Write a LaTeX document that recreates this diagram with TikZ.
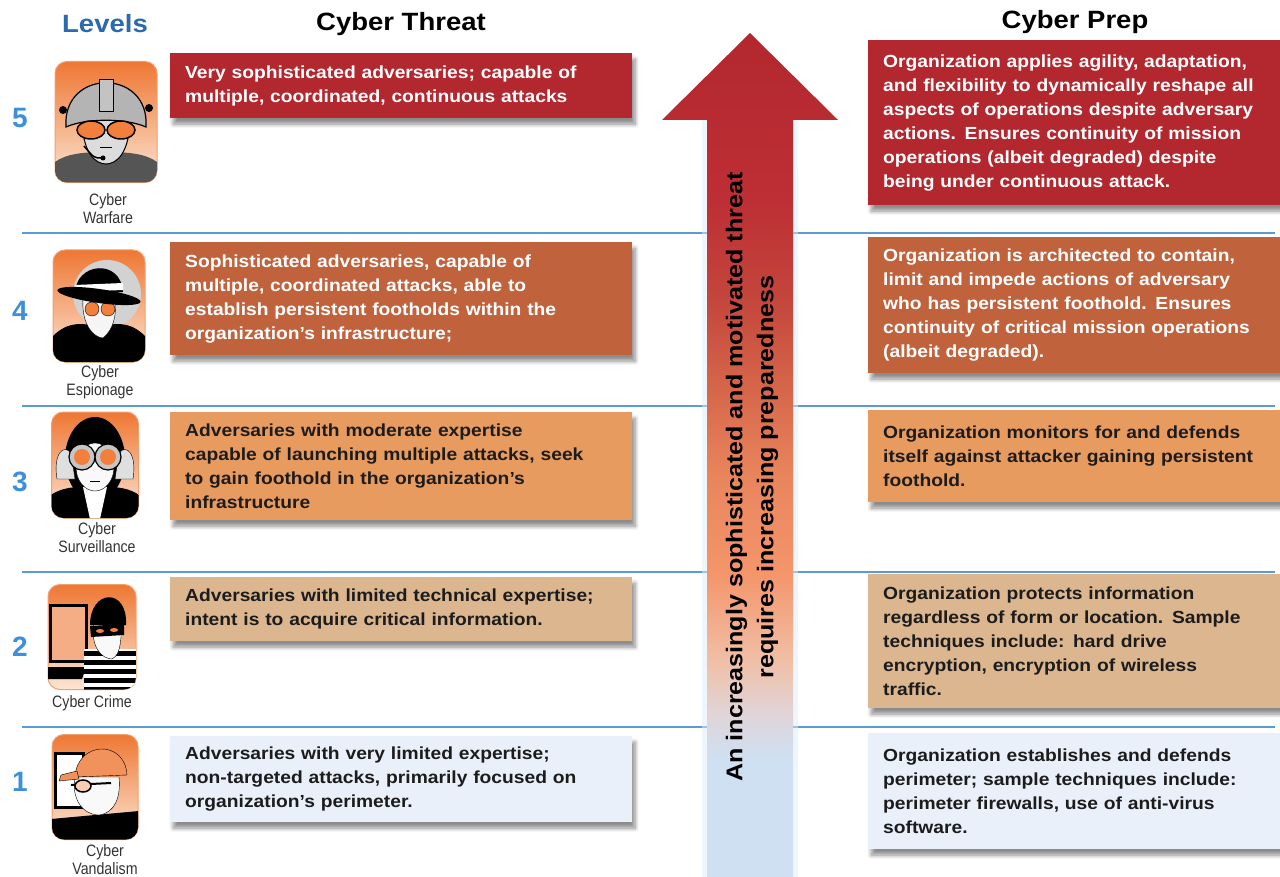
\documentclass[tikz,border=0pt]{standalone}
\usepackage{fontspec}
\setmainfont{Liberation Sans}
\newfontfamily\widefont[FakeStretch=1.1, WordSpace=1.7]{Liberation Sans}
\newfontfamily\headfont[FakeStretch=1.1]{Liberation Sans}
\newfontfamily\narrowfont[FakeStretch=0.86]{Liberation Sans}
\usetikzlibrary{positioning,shadows,shadows.blur}

\definecolor{headblue}{HTML}{2A6AAD}
\definecolor{lvlblue}{HTML}{3D8FDC}
\definecolor{ruleblue}{HTML}{5B9BD5}
\definecolor{lvfive}{HTML}{B3272F}
\definecolor{lvfour}{HTML}{C0623C}
\definecolor{lvthree}{HTML}{E89B5E}
\definecolor{lvtwo}{HTML}{DBB68F}
\definecolor{lvone}{HTML}{E9F0F9}
\definecolor{darktext}{HTML}{1C1C1C}
\definecolor{captext}{HTML}{333333}
\definecolor{iconorange}{HTML}{EE7733}
\definecolor{iconpale}{HTML}{FCE6D4}
\definecolor{iconedge}{HTML}{F0A070}
\definecolor{goggle}{HTML}{F2803C}
\definecolor{suitgray}{HTML}{555555}
\definecolor{helmetgray}{HTML}{B4B4B4}
\definecolor{facegray}{HTML}{DCDCDC}
\definecolor{arblue}{HTML}{CFE0F2}
\definecolor{arpink}{HTML}{E0D4D8}
\definecolor{arpeach}{HTML}{F0C0A8}
\definecolor{arorange}{HTML}{F4956A}
\definecolor{arcoral}{HTML}{E8845C}
\definecolor{arrust}{HTML}{D86A4C}
\definecolor{arbrick}{HTML}{C4463C}
\definecolor{arred}{HTML}{BD2F34}

\pgfdeclareverticalshading{threatshade}{100bp}{
  color(0bp)=(arblue); color(25bp)=(arblue); color(32bp)=(arblue);
  color(34.7bp)=(arpink); color(37.7bp)=(arpeach); color(43bp)=(arorange);
  color(49bp)=(arcoral); color(53.3bp)=(arrust); color(59.2bp)=(arbrick);
  color(65bp)=(arred); color(75bp)=(lvfive); color(100bp)=(lvfive)}

\tikzset{
  box/.style={rectangle, anchor=north west, inner xsep=15pt, inner ysep=0pt,
    align=left, font=\widefont\bfseries\fontsize{17.5}{24}\selectfont,
    blur shadow={shadow xshift=3pt, shadow yshift=-6pt, shadow blur steps=8,
      shadow blur radius=4pt, shadow opacity=45}},
  threatbox/.style={box, text width=432pt},
  prepbox/.style={box, text width=394pt},
  lvlnum/.style={font=\bfseries\fontsize{28}{30}\selectfont, text=lvlblue},
  heading/.style={font=\headfont\bfseries\fontsize{25}{30}\selectfont},
  iconframe/.style={rectangle, rounded corners=12pt, draw=iconedge, line width=1pt,
    top color=iconorange, bottom color=iconpale, inner sep=0pt},
  iconcap/.style={align=center, font=\narrowfont\fontsize{16.5}{18}\selectfont, text=captext},
  levelrule/.style={draw=ruleblue, line width=2pt},
}

\begin{document}
\begin{tikzpicture}[x=1pt, y=-1pt]
  \useasboundingbox (0,0) rectangle (1280,877);

  % headings and level rules
  \node[heading, text=headblue] (levels) at (105,24) {Levels};
  \node[heading] (threat) at (401,24) {Cyber Threat};
  \node[heading] (prep) at (1075,22) {Cyber Prep};
  \foreach \y in {233,406,572,727} {
    \draw[levelrule] (22,\y) -- (1275,\y);
  }
  \foreach \n/\y in {5/118,4/311,3/482,2/647,1/782} {
    \node[lvlnum] (n\n) at (20,\y) {\n};
  }

  % arrow
  \fill[ruleblue!20, opacity=0.5] (702,877) -- (702,120) -- (662,120) -- (750,36)
    -- (838,120) -- (798,120) -- (798,877) -- cycle;
  \shade[shading=threatshade] (707,877) -- (707,120) -- (662,120) -- (750,33)
    -- (838,120) -- (793,120) -- (793,877) -- cycle;
  \node[rotate=90, align=center, font=\widefont\bfseries\fontsize{22.8}{31}\selectfont]
    (arrowtxt) at (752,477)
    {An increasingly sophisticated and motivated threat\\requires increasing preparedness};

  % threat column
  \begin{scope}
    \node[threatbox, fill=lvfive, text=white, minimum height=65pt] (t5) at (170,53)
      {Very sophisticated adversaries; capable of\\multiple, coordinated, continuous attacks};
    \node[threatbox, fill=lvfour, text=white, minimum height=113pt] (t4) at (170,242)
      {Sophisticated adversaries, capable of\\multiple, coordinated attacks, able to\\establish persistent footholds within the\\organization’s infrastructure;};
    \node[threatbox, fill=lvthree, text=darktext, minimum height=108pt] (t3) at (170,412)
      {Adversaries with moderate expertise\\capable of launching multiple attacks, seek\\to gain foothold in the organization’s\\infrastructure};
    \node[threatbox, fill=lvtwo, text=darktext, minimum height=64pt] (t2) at (170,577)
      {Adversaries with limited technical expertise;\\intent is to acquire critical information.};
    \node[threatbox, fill=lvone, text=darktext, minimum height=86pt] (t1) at (170,736)
      {Adversaries with very limited expertise;\\non-targeted attacks, primarily focused on\\organization’s perimeter.};
  \end{scope}

  % prep column
  \begin{scope}
    \node[prepbox, fill=lvfive, text=white, minimum height=165pt] (p5) at (868,40)
      {Organization applies agility, adaptation,\\and flexibility to dynamically reshape all\\aspects of operations despite adversary\\actions. Ensures continuity of mission\\operations (albeit degraded) despite\\being under continuous attack.};
    \node[prepbox, fill=lvfour, text=white, minimum height=136pt] (p4) at (868,237)
      {Organization is architected to contain,\\limit and impede actions of adversary\\who has persistent foothold. Ensures\\continuity of critical mission operations\\(albeit degraded).};
    \node[prepbox, fill=lvthree, text=darktext, minimum height=92pt] (p3) at (868,410)
      {Organization monitors for and defends\\itself against attacker gaining persistent\\foothold.};
    \node[prepbox, fill=lvtwo, text=darktext, minimum height=134pt] (p2) at (868,574)
      {Organization protects information\\regardless of form or location. Sample\\techniques include: hard drive\\encryption, encryption of wireless\\traffic.};
    \node[prepbox, fill=lvone, text=darktext, minimum height=116pt] (p1) at (868,733)
      {Organization establishes and defends\\perimeter; sample techniques include:\\perimeter firewalls, use of anti-virus\\software.};
  \end{scope}

  % icons
  \node[iconframe, minimum width=102pt, minimum height=121pt] (i5) at (106,122) {};
  \begin{scope}[shift={(i5.center)}]
    \clip[rounded corners=12pt] (-51,-60.5) rectangle (51,60.5);
    \fill[suitgray] (-51,61) -- (-51,40) .. controls (-40,32) and (-24,30) .. (0,30)
      .. controls (24,30) and (40,32) .. (51,40) -- (51,61) -- cycle;
    \filldraw[fill=facegray, draw=black, line width=1pt] (-24,-5) .. controls (-24,32) and (-10,42) .. (0,42)
      .. controls (10,42) and (24,32) .. (24,-5) -- cycle;
    \filldraw[fill=helmetgray, draw=black, line width=1.2pt] (-40,5) .. controls (-44,-54) and (44,-54) .. (40,5)
      .. controls (20,-4) and (-20,-4) .. (-40,5) -- cycle;
    \filldraw[fill=helmetgray!80, draw=black, line width=1pt] (-7,-42) rectangle (7,-10);
    \fill[black] (-43,-12) circle (4) (43,-14) circle (4);
    \filldraw[fill=goggle, draw=black, line width=1.5pt] (-15,8) ellipse (14 and 9) (15,8) ellipse (14 and 9);
    \draw[black, line width=1pt] (-6,26) -- (6,26);
    \draw[black, line width=1.5pt] (-22,24) .. controls (-12,36) .. (-4,36);
    \fill[black] (-3,36) circle (2.5);
  \end{scope}
  \node[iconcap] (c5) at (108,209) {Cyber\\Warfare};

  \node[iconframe, minimum width=92pt, minimum height=112pt] (i4) at (99,306) {};
  \begin{scope}[shift={(i4.center)}]
    \clip[rounded corners=12pt] (-46,-56) rectangle (46,56);
    \fill[gray!35] (8,-12) circle (34);
    \fill[black] (-46,57) -- (-46,30) .. controls (-30,14) and (-15,18) .. (0,20)
      .. controls (15,18) and (30,14) .. (46,30) -- (46,57) -- cycle;
    \filldraw[fill=white!92!gray, draw=black] (-16,-8) .. controls (-18,20) and (-4,32) .. (4,32)
      .. controls (14,24) and (18,10) .. (16,-8) -- cycle;
    \filldraw[fill=goggle, draw=black] (-7,3) circle (7) (9,3) circle (7);
    \fill[black] (-24,-12) .. controls (-24,-44) and (22,-48) .. (24,-14) -- cycle;
    \fill[white] (-24,-21) -- (24,-23) -- (24,-16) -- (-24,-14) -- cycle;
    \fill[black, rotate around={-8:(0,-10)}] (0,-10) ellipse (42 and 7);
  \end{scope}
  \node[iconcap] (c4) at (100,382) {Cyber\\Espionage};

  \node[iconframe, minimum width=87pt, minimum height=106pt] (i3) at (95,465) {};
  \begin{scope}[shift={(i3.center)}]
    \clip[rounded corners=12pt] (-43.5,-53) rectangle (43.5,53);
    \fill[black] (0,-6) ellipse (30 and 42);
    \fill[black] (-44,54) -- (-44,30) .. controls (-30,20) and (-10,22) .. (0,22)
      .. controls (10,22) and (30,20) .. (44,30) -- (44,54) -- cycle;
    \fill[white] (-12,22) -- (12,22) -- (5,54) -- (-5,54) -- cycle;
    \filldraw[fill=white!95!gray, draw=black] (0,2) ellipse (19 and 24);
    \filldraw[fill=gray!25, draw=black] (-38,14) .. controls (-42,-10) and (-32,-22) .. (-24,-12) -- (-20,14) -- cycle;
    \filldraw[fill=gray!25, draw=black] (38,14) .. controls (42,-10) and (32,-22) .. (24,-12) -- (20,14) -- cycle;
    \filldraw[fill=gray!45, draw=black, line width=1.2pt] (-13,-8) circle (13) (13,-8) circle (13);
    \fill[goggle] (-13,-8) circle (8) (13,-8) circle (8);
    \draw[black] (-5,16) -- (5,16);
  \end{scope}
  \node[iconcap] (c3) at (97,538) {Cyber\\Surveillance};

  \node[iconframe, minimum width=88pt, minimum height=105pt] (i2) at (92,637) {};
  \begin{scope}[shift={(i2.center)}]
    \clip[rounded corners=12pt] (-44,-52.5) rectangle (44,52.5);
    \filldraw[fill=iconorange!60!white, draw=black, line width=3pt] (-42,-32) rectangle (-6,24);
    \fill[black] (-45,30) -- (-6,30) -- (-10,42) -- (-45,42) -- cycle;
    \fill[white] (-8,12) rectangle (45,53);
    \foreach \s in {0,...,4} {
      \fill[black] (-8,14+\s*9) rectangle (45,19+\s*9);
    }
    \filldraw[fill=white!95!gray, draw=black] (2,-14) .. controls (-2,10) and (10,22) .. (20,22)
      .. controls (30,18) and (30,-6) .. (28,-14) -- cycle;
    \fill[black] (-2,-12) .. controls (-2,-48) and (36,-50) .. (34,-12) -- cycle;
    \fill[black] (-2,-11) -- (32,-13) -- (32,-2) -- (-1,0) -- cycle;
    \fill[goggle] (8,-6) ellipse (4 and 2) (22,-7) ellipse (4 and 2);
  \end{scope}
  \node[iconcap] (c2) at (92,703) {Cyber Crime};

  \node[iconframe, minimum width=86pt, minimum height=105pt] (i1) at (95,787) {};
  \begin{scope}[shift={(i1.center)}]
    \clip[rounded corners=12pt] (-43,-52.5) rectangle (43,52.5);
    \filldraw[fill=white, draw=black, line width=3pt] (-40,-34) rectangle (-12,20);
    \fill[black] (-44,32) -- (44,24) -- (44,53) -- (-44,53) -- cycle;
    \filldraw[fill=white!95!gray, draw=black] (-20,-10) .. controls (-24,12) and (-12,28) .. (4,28)
      .. controls (20,26) and (26,10) .. (24,-10) -- cycle;
    \filldraw[fill=iconorange!80!white, draw=black] (-20,-10) .. controls (-18,-46) and (30,-48) .. (32,-12) -- cycle;
    \filldraw[fill=iconorange!80!white, draw=black] (-34,-12) -- (-18,-16) -- (-16,-8) -- (-36,-6) -- cycle;
    \draw[black, line width=2pt] (-24,-2) -- (16,-4);
    \filldraw[fill=goggle!40!white, draw=black, line width=1.5pt] (-12,-1) ellipse (8 and 6);
  \end{scope}
  \node[iconcap] (c1) at (105,860) {Cyber\\Vandalism};
\end{tikzpicture}
\end{document}
